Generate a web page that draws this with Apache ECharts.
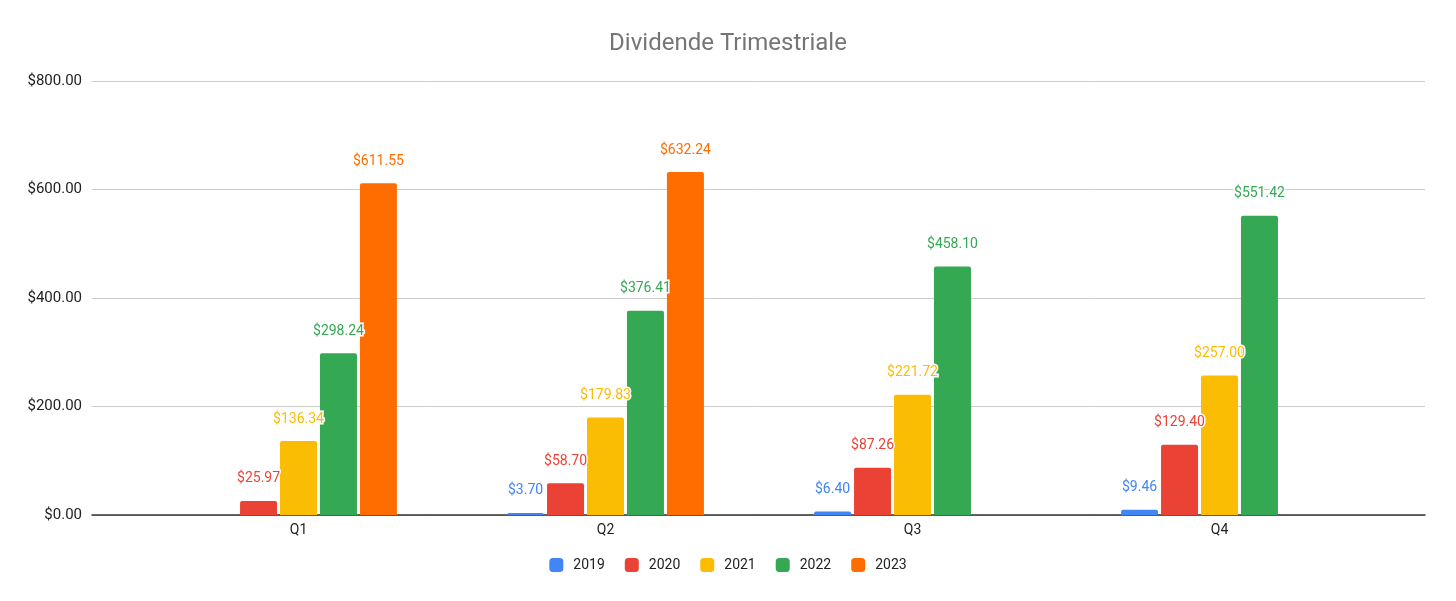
<!DOCTYPE html>
<html>
<head>
<meta charset="utf-8">
<script src="https://cdn.jsdelivr.net/npm/echarts@6/dist/echarts.min.js"></script>
<style>
  html, body { margin: 0; padding: 0; background: #fff; }
  #chart { width: 1456px; height: 601px; }
</style>
</head>
<body>
<div id="chart"></div>
<script>
// dati
var quarters = ['Q1', 'Q2', 'Q3', 'Q4'];
var years = ['2019', '2020', '2021', '2022', '2023'];
var colors = ['#4285F4', '#EA4335', '#FBBC04', '#34A853', '#FF6D01'];
var v2019 = [null, 3.70, 6.40, 9.46];
var v2020 = [25.97, 58.70, 87.26, 129.40];
var v2021 = [136.34, 179.83, 221.72, 257.00];
var v2022 = [298.24, 376.41, 458.10, 551.42];
var v2023 = [611.55, 632.24, null, null];
var yTicks = [0, 200, 400, 600, 800];

var values = [v2019, v2020, v2021, v2022, v2023];
var font = 'Roboto, Arial, sans-serif';

function money(v) {
    return '$' + v.toFixed(2);
}

var chart = echarts.init(document.getElementById('chart'));

var series = years.map(function (y, i) {
    return {
        name: y,
        type: 'bar',
        xAxisIndex: 1,
        yAxisIndex: 1,
        data: values[i],
        barWidth: 37,
        barGap: '8%',
        itemStyle: { color: colors[i], borderRadius: [2, 2, 0, 0] },
        label: {
            show: true,
            position: 'top',
            distance: 15,
            color: colors[i],
            fontFamily: font,
            fontSize: 14,
            textBorderColor: '#fff',
            textBorderWidth: 3,
            formatter: function (p) { return money(p.value); }
        }
    };
});

var option = {
    animation: false,
    title: {
        text: 'Dividende Trimestriale',
        left: 'center',
        top: 27,
        textStyle: { color: '#757575', fontSize: 24, fontWeight: 'normal', fontFamily: font }
    },
    legend: {
        data: years,
        bottom: 24,
        left: 'center',
        itemWidth: 14,
        itemHeight: 14,
        itemGap: 20,
        icon: 'roundRect',
        textStyle: { color: '#222', fontSize: 14, fontFamily: font, padding: [0, 0, 0, 5] }
    },
    grid: [
        // griglia per assi e linee
        { left: 92, right: 31, top: 81, bottom: 86 },
        // griglia per le barre
        { left: 145, right: 83, top: 81, bottom: 86 }
    ],
    xAxis: [{
        gridIndex: 0,
        type: 'category',
        data: [''],
        axisLine: { lineStyle: { color: '#333', width: 1.5 } },
        axisTick: { show: false },
        axisLabel: { show: false }
    }, {
        gridIndex: 1,
        type: 'category',
        data: quarters,
        axisLine: { show: false },
        axisTick: { show: false },
        axisLabel: { color: '#222', fontSize: 14, fontFamily: font, margin: 8 }
    }],
    yAxis: [{
        gridIndex: 0,
        type: 'value',
        min: yTicks[0],
        max: yTicks[yTicks.length - 1],
        interval: 200,
        axisLine: { show: false },
        axisTick: { show: false },
        splitLine: { lineStyle: { color: '#ccc' } },
        axisLabel: { color: '#222', fontSize: 15, fontFamily: font, margin: 10, formatter: money }
    }, {
        gridIndex: 1,
        type: 'value',
        min: yTicks[0],
        max: yTicks[yTicks.length - 1],
        interval: 200,
        show: false,
        splitLine: { show: false }
    }],
    series: series
};

chart.setOption(option);
</script>
</body>
</html>
